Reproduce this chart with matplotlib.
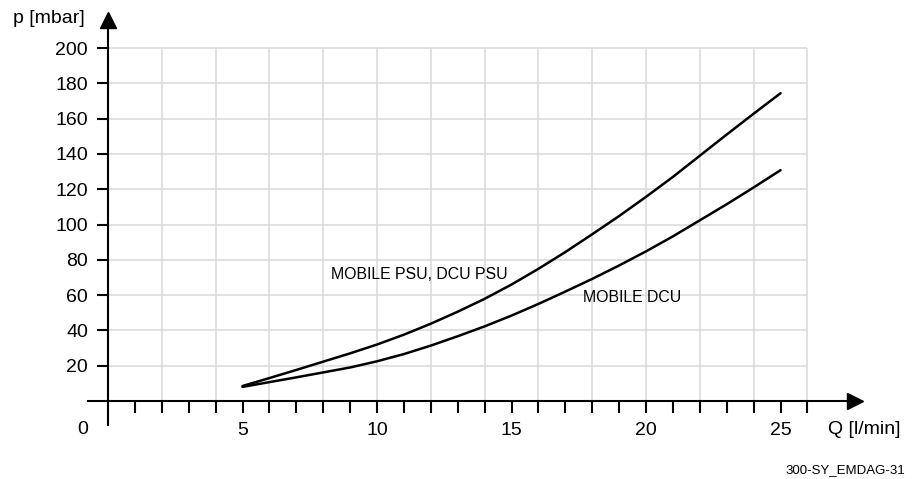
import matplotlib
matplotlib.use("Agg")
import matplotlib.pyplot as plt

flow = list(range(5, 26))
psu_dp = [8.5, 13, 17.6, 22.3, 27, 32, 37.6, 43.8, 50.6, 57.9, 66,
          74.9, 84.4, 94.5, 104.8, 115.7, 127, 139, 151, 162.8, 174.4]
dcu_dp = [8, 10.7, 13.4, 16.2, 19, 22.5, 26.6, 31.4, 36.7, 42.3, 48.4,
          55, 62, 69.2, 76.8, 84.8, 93.3, 102.4, 111.5, 121, 130.8]

x_ticks = list(range(1, 27))
x_labels = [str(v) if v % 5 == 0 else "" for v in x_ticks]
y_ticks = list(range(20, 201, 20))
grid_x = list(range(2, 27, 2))

FONT = "Liberation Sans"
LINE = "#000000"
GRID = "#d9d9d9"

fig = plt.figure(figsize=(9.21, 4.79), dpi=100)
ax = fig.add_axes([0, 0, 1, 1])
ax.set_xlim(-4.015, 30.22)
ax.set_ylim(-44.19, 227.2)

# grid
ax.vlines(grid_x, 0, 200, color=GRID, linewidth=1.1, zorder=1)
ax.hlines(y_ticks, 0, 26, color=GRID, linewidth=1.1, zorder=1)

# curves
for series in (psu_dp, dcu_dp):
    ax.plot(flow, series, color=LINE, linewidth=1.8,
            solid_capstyle="round", solid_joinstyle="round", zorder=4)

# axes through origin
for side in ("top", "right"):
    ax.spines[side].set_visible(False)
ax.spines["left"].set_position(("data", 0))
ax.spines["bottom"].set_position(("data", 0))
ax.spines["left"].set_bounds(-13.6, 216)
ax.spines["bottom"].set_bounds(-0.75, 27.7)
for side in ("left", "bottom"):
    ax.spines[side].set_linewidth(1.5)
    ax.spines[side].set_zorder(5)

ax.set_xticks(x_ticks)
ax.set_xticklabels(x_labels)
ax.set_yticks(y_ticks)
ax.tick_params(axis="x", direction="out", length=8.6, width=1.5, pad=6.5,
               labelsize=14)
ax.tick_params(axis="y", direction="out", length=7.9, width=1.5, pad=6.5,
               labelsize=14)
for lbl in ax.get_xticklabels() + ax.get_yticklabels():
    lbl.set_family(FONT)

# arrow heads
ax.plot([27.77], [0], marker=">", markersize=11.5, color=LINE, zorder=6)
ax.plot([0], [216.1], marker="^", markersize=11.5, color=LINE, zorder=6)

# texts
ax.text(-3.53, 217, "p [mbar]", ha="left", va="center", fontsize=14, family=FONT)
ax.text(26.77, -15.9, "Q [l/min]", ha="left", va="center", fontsize=14, family=FONT)
ax.text(-0.93, -16.4, "0", ha="center", va="center", fontsize=14, family=FONT)
ax.text(8.29, 71.4, "MOBILE PSU, DCU PSU", ha="left", va="center",
        fontsize=11.4, family=FONT)
ax.text(17.66, 58.9, "MOBILE DCU", ha="left", va="center",
        fontsize=11.4, family=FONT)
ax.text(29.63, -39.1, "300-SY_EMDAG-31", ha="right", va="center",
        fontsize=9.5, family=FONT)

fig.savefig("out.png", dpi=100)
